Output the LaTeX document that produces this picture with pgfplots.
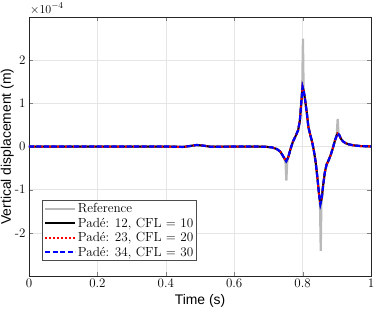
\documentclass[border=0pt]{standalone}
\usepackage{fontspec}
\usepackage{pgfplots}
\pgfplotsset{compat=1.18}
\newfontfamily\labelfont{Liberation Sans}
\newcommand{\lgf}{\fontsize{13.2}{15}\selectfont}
\pgfplotstableread{
t y
0 0
0.40 0
0.43 -0.005
0.45 -0.01
0.47 0.01
0.49 0.035
0.51 0.02
0.53 -0.005
0.56 -0.005
0.60 0
0.65 0
0.69 -0.005
0.71 -0.02
0.725 -0.06
0.735 -0.12
0.745 -0.25
0.752 -0.34
0.758 -0.25
0.765 -0.05
0.772 0.12
0.78 0.25
0.787 0.38
0.792 0.6
0.796 1.0
0.800 1.38
0.803 1.3
0.807 1.1
0.812 0.8
0.817 0.45
0.822 0.28
0.828 0.1
0.833 -0.1
0.838 -0.35
0.843 -0.7
0.848 -1.1
0.852 -1.33
0.856 -1.2
0.860 -0.9
0.865 -0.6
0.870 -0.42
0.876 -0.32
0.882 -0.2
0.888 -0.05
0.895 0.15
0.902 0.3
0.907 0.27
0.912 0.18
0.918 0.12
0.925 0.08
0.935 0.05
0.95 0.025
0.97 0.01
1.0 0.0
}\approxdata
\pgfplotstableread{
t y
0 0
0.40 0
0.43 -0.005
0.45 -0.01
0.47 0.01
0.49 0.035
0.51 0.02
0.53 -0.005
0.56 -0.005
0.60 0
0.65 0
0.69 -0.005
0.71 -0.02
0.725 -0.06
0.735 -0.12
0.745 -0.25
0.750 -0.36
0.7525 -0.79
0.755 -0.36
0.758 -0.25
0.765 -0.05
0.772 0.12
0.78 0.25
0.787 0.38
0.792 0.6
0.796 1.0
0.799 1.4
0.801 2.5
0.803 1.3
0.807 1.1
0.812 0.8
0.817 0.45
0.822 0.28
0.828 0.1
0.833 -0.1
0.838 -0.35
0.843 -0.7
0.848 -1.1
0.851 -1.4
0.853 -2.42
0.855 -1.3
0.860 -0.9
0.865 -0.6
0.870 -0.42
0.876 -0.32
0.882 -0.2
0.888 -0.05
0.895 0.15
0.900 0.3
0.9025 0.64
0.905 0.3
0.907 0.27
0.912 0.18
0.918 0.12
0.925 0.08
0.935 0.05
0.95 0.025
0.97 0.01
1.0 0.0
}\refdata
\begin{document}
\begin{tikzpicture}
\begin{axis}[
  scale only axis,
  width=342pt, height=259pt,
  xmin=0, xmax=1, ymin=-3, ymax=3,
  xtick={0,0.2,0.4,0.6,0.8,1},
  xticklabels={0,0.2,0.4,0.6,0.8,1},
  ytick={-2,-1,0,1,2},
  yticklabels={-2,-1,0,1,2},
  tick align=inside,
  tick pos=both,
  major tick length=4pt,
  grid=major,
  grid style={gray!20, line width=0.6pt},
  axis line style={line width=0.7pt, black!85},
  ticklabel style={font=\fontsize{13}{15}\selectfont},
  xticklabel style={yshift=1pt},
  legend style={at={(0.038,0.058)}, anchor=south west,
    draw=black!70, line width=0.7pt, row sep=0.6pt, inner ysep=1.5pt, inner xsep=2pt,
    nodes={inner sep=1.5pt}},
  legend cell align=left,
  legend image post style={line width=2pt},
  legend image code/.code={\draw[#1] (0pt,0pt) -- (30pt,0pt);},
]
\addplot[gray!55, line width=2.2pt] table[x=t,y=y] {\refdata};
\addlegendentry{\lgf Reference}
\addplot[black, line width=2pt] table[x=t,y=y] {\approxdata};
\addlegendentry{\lgf Pad\'e: 12, CFL = 10}
\addplot[red, line width=2pt, dotted] table[x=t,y=y] {\approxdata};
\addlegendentry{\lgf Pad\'e: 23, CFL = 20}
\addplot[blue, line width=2.2pt, dash pattern=on 5pt off 2.5pt] table[x=t,y=y] {\approxdata};
\addlegendentry{\lgf Pad\'e: 34, CFL = 30}
\coordinate (bl) at (rel axis cs:0,0);
\coordinate (tr) at (rel axis cs:1,1);
\coordinate (ml) at (rel axis cs:0,0.5);
\coordinate (bm) at (rel axis cs:0.5,0);
\end{axis}
\node[anchor=base west, inner sep=0pt, font=\fontsize{13}{15}\selectfont] at ([shift={(1pt,4pt)}]bl|-tr) {$\times10^{-4}$};
\node[rotate=90, anchor=north, inner sep=0.5pt, font=\labelfont\fontsize{13.9}{16}\selectfont] at ([xshift=-29pt]ml) {Vertical displacement (m)};
\node[anchor=base, inner sep=0pt, font=\labelfont\fontsize{13.9}{16}\selectfont] at ([yshift=-28pt]bm) {Time (s)};
\pgfresetboundingbox
\path ([shift={(-29pt,-34pt)}]bl) rectangle ([shift={(3pt,17pt)}]tr);
\end{tikzpicture}
\end{document}
